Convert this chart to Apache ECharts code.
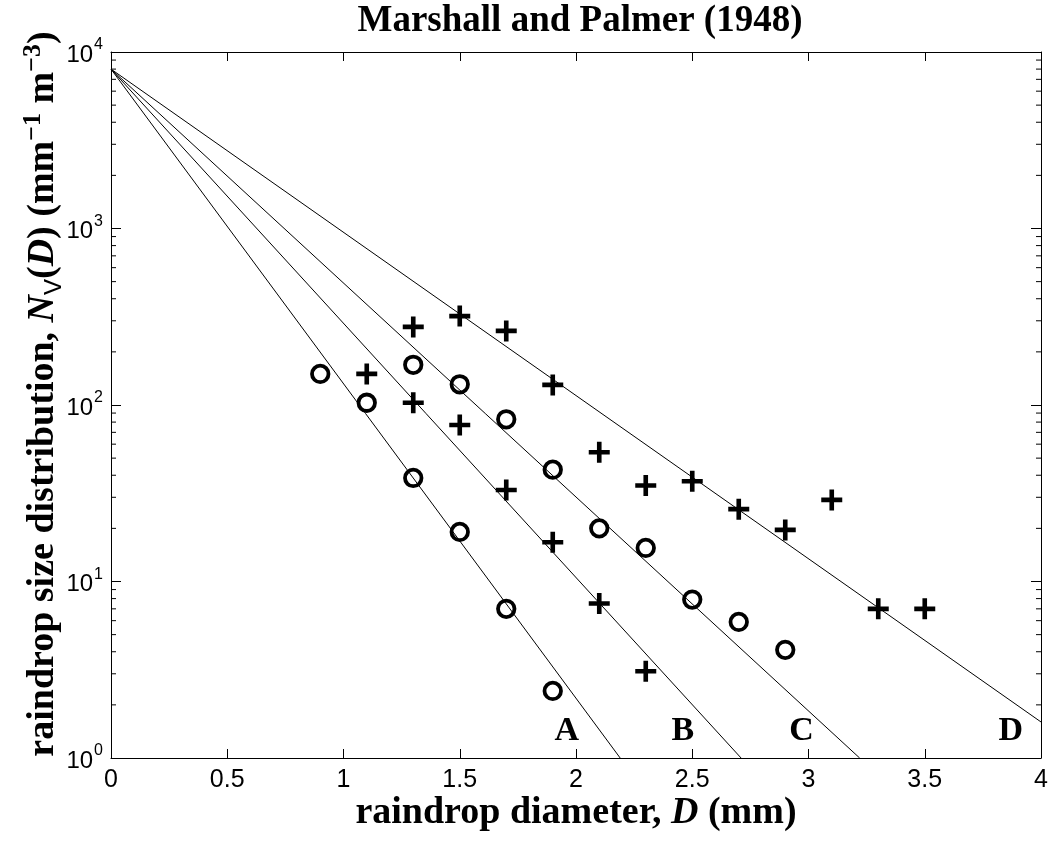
<!DOCTYPE html>
<html>
<head>
<meta charset="utf-8">
<script src="https://cdn.jsdelivr.net/npm/echarts@6/dist/echarts.min.js"></script>
<style>html,body{margin:0;padding:0;background:#fff;}#c{width:1054px;height:843px;}</style>
</head>
<body>
<div id="c"></div>
<script>
// Marshall-Palmer lines: each is a straight line in log-y from (0, N0) to its end point
const N0 = 8000;
const lineA = [[0, N0], [2.19, 1]];
const lineB = [[0, N0], [2.71, 1]];
const lineC = [[0, N0], [3.22, 1]];
const lineD = [[0, N0], [4.0, 1.6]];

// Observed data (circles)
const circleD = [0.9, 1.1, 1.3, 1.3, 1.5, 1.5, 1.7, 1.7, 1.9, 1.9, 2.1, 2.3, 2.5, 2.7, 2.9];
const circleN = [150, 103, 169, 38.6, 131, 19.1, 83, 7.0, 43, 2.4, 20, 15.5, 7.9, 5.9, 4.1];
// Observed data (plus signs)
const plusD = [1.1, 1.3, 1.3, 1.5, 1.5, 1.7, 1.7, 1.9, 1.9, 2.1, 2.1, 2.3, 2.3, 2.5, 2.7, 2.9, 3.1, 3.3, 3.5];
const plusN = [150, 277, 103, 319, 77, 263, 33, 130, 16.7, 54, 7.5, 35, 3.1, 37, 25.7, 19.6, 29, 7.0, 7.0];

// Curve labels
const curveNames = ['A', 'B', 'C', 'D'];
const curveLabelD = [1.96, 2.46, 2.97, 3.87];
const curveLabelN = [1.42, 1.42, 1.42, 1.42];

// Axis ticks
const yMinorTicks = [];
[1, 10, 100, 1000].forEach(function (d) { for (let k = 2; k <= 9; k++) yMinorTicks.push(d * k); });

const chart = echarts.init(document.getElementById('c'), null, { renderer: 'canvas' });

const tickFont = 'Liberation Sans, Arial, sans-serif';
const serif = 'Liberation Serif, Times New Roman, serif';

function zip(a, b) { return a.map(function (v, i) { return [v, b[i]]; }); }

const plusPath = 'path://M3.9,0H6.1V3.9H10V6.1H6.1V10H3.9V6.1H0V3.9H3.9Z';

const baseX = {
  type: 'value', min: 0, max: 4, interval: 0.5,
  axisLine: { show: true, onZero: false, lineStyle: { color: '#000', width: 1 } },
  axisTick: { show: true, inside: true, length: 9, lineStyle: { color: '#000' } },
  splitLine: { show: false }
};
const baseY = {
  type: 'log', logBase: 10, min: 1, max: 10000,
  axisLine: { show: true, onZero: false, lineStyle: { color: '#000', width: 1 } },
  axisTick: { show: true, inside: true, length: 10, lineStyle: { color: '#000' } },
  splitLine: { show: false }
};

const option = {
  backgroundColor: '#fff',
  animation: false,
  title: {
    text: 'Marshall and Palmer (1948)',
    left: 575, top: -2, textAlign: 'center',
    textStyle: { fontFamily: serif, fontWeight: 'bold', fontSize: 37, color: '#000' }
  },
  grid: { left: 111, right: 13, top: 52, bottom: 85 },
  xAxis: [
    Object.assign({}, baseX, {
      position: 'bottom',
      axisLabel: { show: true, margin: 10, fontFamily: tickFont, fontSize: 25, color: '#000',
        formatter: function (v) { return String(v); } },
      name: '{t|raindrop diameter, }{i|D}{t| (mm)}',
      nameLocation: 'middle', nameGap: 36, nameMoveOverlap: false,
      nameTextStyle: {
        rich: {
          t: { fontFamily: serif, fontWeight: 'bold', fontSize: 38, color: '#000' },
          i: { fontFamily: serif, fontWeight: 'bold', fontStyle: 'italic', fontSize: 38, color: '#000' }
        }
      }
    }),
    Object.assign({}, baseX, { position: 'top', axisLabel: { show: false } })
  ],
  yAxis: [
    Object.assign({}, baseY, {
      position: 'left',
      axisLabel: {
        show: true, margin: 8, color: '#000',
        formatter: function (v) {
          const e = Math.round(Math.log10(v));
          return '{b|10}{e|' + e + '}';
        },
        rich: {
          b: { fontFamily: tickFont, fontSize: 24, color: '#000', lineHeight: 28, verticalAlign: 'bottom', padding: [10, 0, 0, 0] },
          e: { fontFamily: tickFont, fontSize: 16, color: '#000', verticalAlign: 'top', padding: [0, 0, 14, 1] }
        }
      },
      name: '{t|raindrop size distribution, }{i|N}{s|V}{t|(}{i|D}{t|) (mm}{p|−1}{t| m}{p|−3}{t|)}',
      nameLocation: 'middle', nameRotate: 90, nameGap: 45, nameMoveOverlap: false,
      nameTextStyle: {
        padding: [0, 0, 0, 22],
        rich: {
          t: { fontFamily: serif, fontWeight: 'bold', fontSize: 38, color: '#000' },
          i: { fontFamily: serif, fontWeight: 'bold', fontStyle: 'italic', fontSize: 38, color: '#000' },
          s: { fontFamily: tickFont, fontSize: 24, color: '#000', verticalAlign: 'bottom', padding: [16, 0, 0, 0] },
          p: { fontFamily: serif, fontWeight: 'bold', fontSize: 26, color: '#000', verticalAlign: 'top', padding: [0, 0, 20, 0] }
        }
      }
    }),
    Object.assign({}, baseY, { position: 'right', axisLabel: { show: false } })
  ],
  series: [
    { type: 'line', data: lineA, showSymbol: false, lineStyle: { color: '#000', width: 1 }, clip: true, z: 2 },
    { type: 'line', data: lineB, showSymbol: false, lineStyle: { color: '#000', width: 1 }, clip: true, z: 2 },
    { type: 'line', data: lineC, showSymbol: false, lineStyle: { color: '#000', width: 1 }, clip: true, z: 2 },
    { type: 'line', data: lineD, showSymbol: false, lineStyle: { color: '#000', width: 1 }, clip: true, z: 2 },
    {
      type: 'scatter', data: zip(circleD, circleN), symbol: 'circle', symbolSize: 16.5,
      itemStyle: { color: 'rgba(0,0,0,0)', borderColor: '#000', borderWidth: 3.8, opacity: 1 }, z: 3
    },
    {
      type: 'scatter', data: zip(plusD, plusN), symbol: plusPath, symbolSize: 21,
      itemStyle: { color: '#000', opacity: 1 }, z: 3
    },
    {
      type: 'scatter', data: curveNames.map(function (n, i) { return [curveLabelD[i], curveLabelN[i], n]; }),
      symbolSize: 0, silent: true, itemStyle: { opacity: 1 },
      label: { show: true, position: 'inside', formatter: function (p) { return p.data[2]; },
        fontFamily: serif, fontWeight: 'bold', fontSize: 34, color: '#000', opacity: 1 }, z: 4
    },
    {
      type: 'custom', silent: true, clip: false, z: 5,
      data: yMinorTicks.map(function (v) { return [0, v]; }),
      renderItem: function (params, api) {
        const p = api.coord([0, api.value(1)]);
        const cs = params.coordSys;
        return {
          type: 'group', children: [
            { type: 'line', shape: { x1: cs.x, y1: p[1], x2: cs.x + 5, y2: p[1] }, style: { stroke: '#000', lineWidth: 1 } },
            { type: 'line', shape: { x1: cs.x + cs.width - 5, y1: p[1], x2: cs.x + cs.width, y2: p[1] }, style: { stroke: '#000', lineWidth: 1 } }
          ]
        };
      }
    }
  ]
};
chart.setOption(option);
</script>
</body>
</html>
